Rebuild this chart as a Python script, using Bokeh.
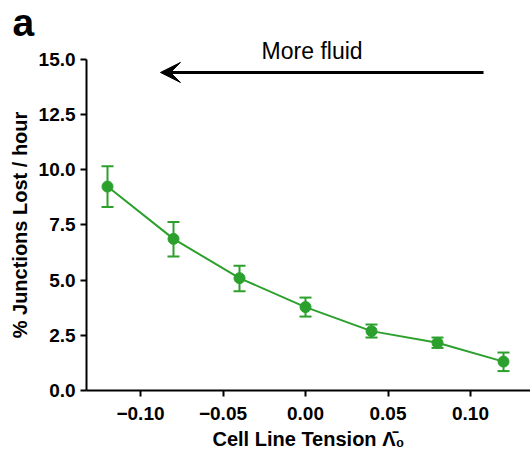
from bokeh.plotting import figure
from bokeh.models import ColumnDataSource, Whisker, TeeHead, Label, Arrow, VeeHead, FixedTicker, Range1d
from bokeh.embed import file_html
from bokeh.resources import INLINE

# data
tension = [-0.12, -0.08, -0.04, 0.00, 0.04, 0.08, 0.12]
lost = [9.24, 6.87, 5.09, 3.78, 2.69, 2.16, 1.31]
lost_upper = [10.16, 7.64, 5.65, 4.21, 2.99, 2.40, 1.72]
lost_lower = [8.31, 6.07, 4.50, 3.35, 2.40, 1.93, 0.88]
x_ticks = [-0.10, -0.05, 0.00, 0.05, 0.10]
x_tick_labels = ["\u22120.10", "\u22120.05", "0.00", "0.05", "0.10"]
y_ticks = [0.0, 2.5, 5.0, 7.5, 10.0, 12.5, 15.0]
y_tick_labels = ["0.0", "2.5", "5.0", "7.5", "10.0", "12.5", "15.0"]

GREEN = "#2ca02c"
FONT = "Liberation Sans"
X_AXIS_START = -0.1327

src = ColumnDataSource(dict(x=tension, y=lost, up=lost_upper, lo=lost_lower))

p = figure(width=530, height=456, output_backend="svg", toolbar_location=None,
           x_range=Range1d(-0.18485, 0.13636), y_range=Range1d(-2.99, 17.67),
           min_border_left=0, min_border_right=0, min_border_top=0, min_border_bottom=0)
p.outline_line_color = None
p.xgrid.visible = False
p.ygrid.visible = False

p.line("x", "y", source=src, line_color=GREEN, line_width=2)
wh = Whisker(base="x", upper="up", lower="lo", source=src, line_color=GREEN, line_width=2,
             upper_head=TeeHead(size=12, line_color=GREEN, line_width=2),
             lower_head=TeeHead(size=12, line_color=GREEN, line_width=2))
p.add_layout(wh)
p.scatter("x", "y", source=src, size=11, fill_color=GREEN, line_color=GREEN)

for ax in (p.xaxis[0], p.yaxis[0]):
    ax.axis_line_width = 2
    ax.axis_line_color = "black"
    ax.major_tick_line_width = 2
    ax.major_tick_out = 6
    ax.major_tick_in = 0
    ax.minor_tick_line_color = None
    ax.major_label_text_font = FONT
    ax.major_label_text_font_style = "bold"
    ax.major_label_text_font_size = "19px"
    ax.major_label_text_color = "black"
    ax.axis_label_text_font = FONT
    ax.axis_label_text_font_style = "bold"
    ax.axis_label_text_font_size = "20px"
    ax.axis_label_text_color = "black"

p.xaxis.ticker = FixedTicker(ticks=x_ticks)
p.xaxis.major_label_overrides = {t: l for t, l in zip(x_ticks, x_tick_labels)}
p.xaxis.bounds = (X_AXIS_START, 0.14)
p.xaxis.fixed_location = 0
p.yaxis.ticker = FixedTicker(ticks=y_ticks)
p.yaxis.major_label_overrides = {t: l for t, l in zip(y_ticks, y_tick_labels)}
p.yaxis.bounds = (0, 15)
p.yaxis.fixed_location = X_AXIS_START
p.xaxis.major_label_standoff = 10
p.yaxis.major_label_standoff = 5
p.xaxis.axis_label = "Cell Line Tension \u039b\u0304\u2080"
p.yaxis.axis_label = "% Junctions Lost / hour"
p.xaxis.axis_label_standoff = 5
p.yaxis.axis_label_standoff = 5

p.add_layout(Arrow(x_start=0.1079, y_start=14.41, x_end=-0.0879, y_end=14.41,
                   line_width=3, line_color="black",
                   end=VeeHead(size=20, fill_color="black", line_color="black")))
p.add_layout(Label(x=0.004, y=15.40, text="More fluid", text_align="center",
                   text_baseline="alphabetic", text_font=FONT, text_font_size="23px",
                   text_color="black"))
p.add_layout(Label(x=-0.1776, y=16.68, text="a", text_align="left",
                   text_baseline="alphabetic", text_font=FONT, text_font_size="39px",
                   text_font_style="bold", text_color="black"))

open("out.html", "w").write(file_html(p, INLINE))
